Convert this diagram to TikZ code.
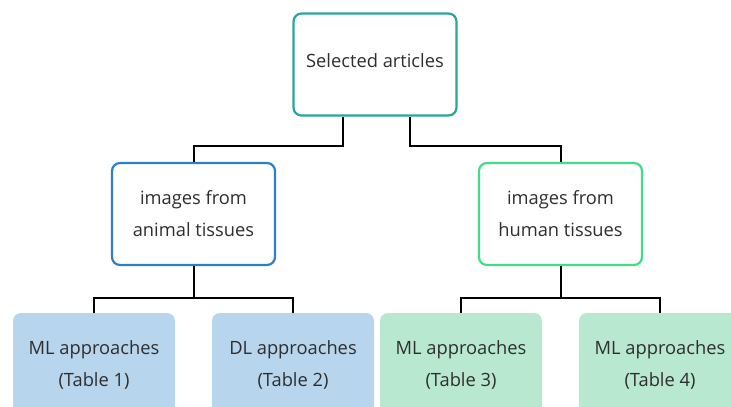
\documentclass[tikz,border=0pt]{standalone}
\usepackage{fontspec}
\setmainfont{Open Sans}
\definecolor{inkc}{HTML}{2E2E2E}
\definecolor{tealc}{HTML}{2BA59C}
\definecolor{bluec}{HTML}{2F7FC6}
\definecolor{greenc}{HTML}{43DB86}
\definecolor{bluefill}{HTML}{B7D5EC}
\definecolor{greenfill}{HTML}{B8E8D0}
\tikzset{
  box/.style={rounded corners=8pt, align=center, text=inkc, inner sep=0pt,
    font=\fontsize{18.3}{32}\selectfont},
  outlined/.style={box, draw=#1, line width=2.2pt, fill=white,
    minimum width=163pt, minimum height=102pt},
  leaf/.style={box, fill=#1, minimum width=162pt, minimum height=104pt},
  link/.style={draw=black, line width=2pt}
}
\begin{document}
\begin{tikzpicture}[x=1pt, y=-1pt]
  \useasboundingbox (0,0) rectangle (731,407);
  \clip (0,0) rectangle (731,407);

  % top level
  \node[outlined=tealc, text depth=7pt] (top) at (375,64.5) {Selected articles};

  % second level
  \node[outlined=bluec]  (animal) at (193.5,214) {images from\\animal tissues};
  \node[outlined=greenc] (human)  at (560.5,214) {images from\\human tissues};

  % leaves
  \node[leaf=bluefill]  (t1) at (94,365)  {ML approaches\\(Table 1)};
  \node[leaf=bluefill]  (t2) at (293,365) {DL approaches\\(Table 2)};
  \node[leaf=greenfill] (t3) at (461,365) {ML approaches\\(Table 3)};
  \node[leaf=greenfill] (t4) at (660,365) {ML approaches\\(Table 4)};

  % connectors from the top box
  \draw[link] ([xshift=-32pt]top.south) |- ++(0,29) -| (animal.north);
  \draw[link] ([xshift=35pt]top.south)  |- ++(0,29) -| (human.north);

  % connectors to the leaves
  \draw[link] (animal.south) -- ++(0,32) coordinate (ja);
  \draw[link] (t1.north) |- (ja) -| (t2.north);
  \draw[link] (human.south) -- ++(0,32) coordinate (jh);
  \draw[link] (t3.north) |- (jh) -| (t4.north);
\end{tikzpicture}
\end{document}
